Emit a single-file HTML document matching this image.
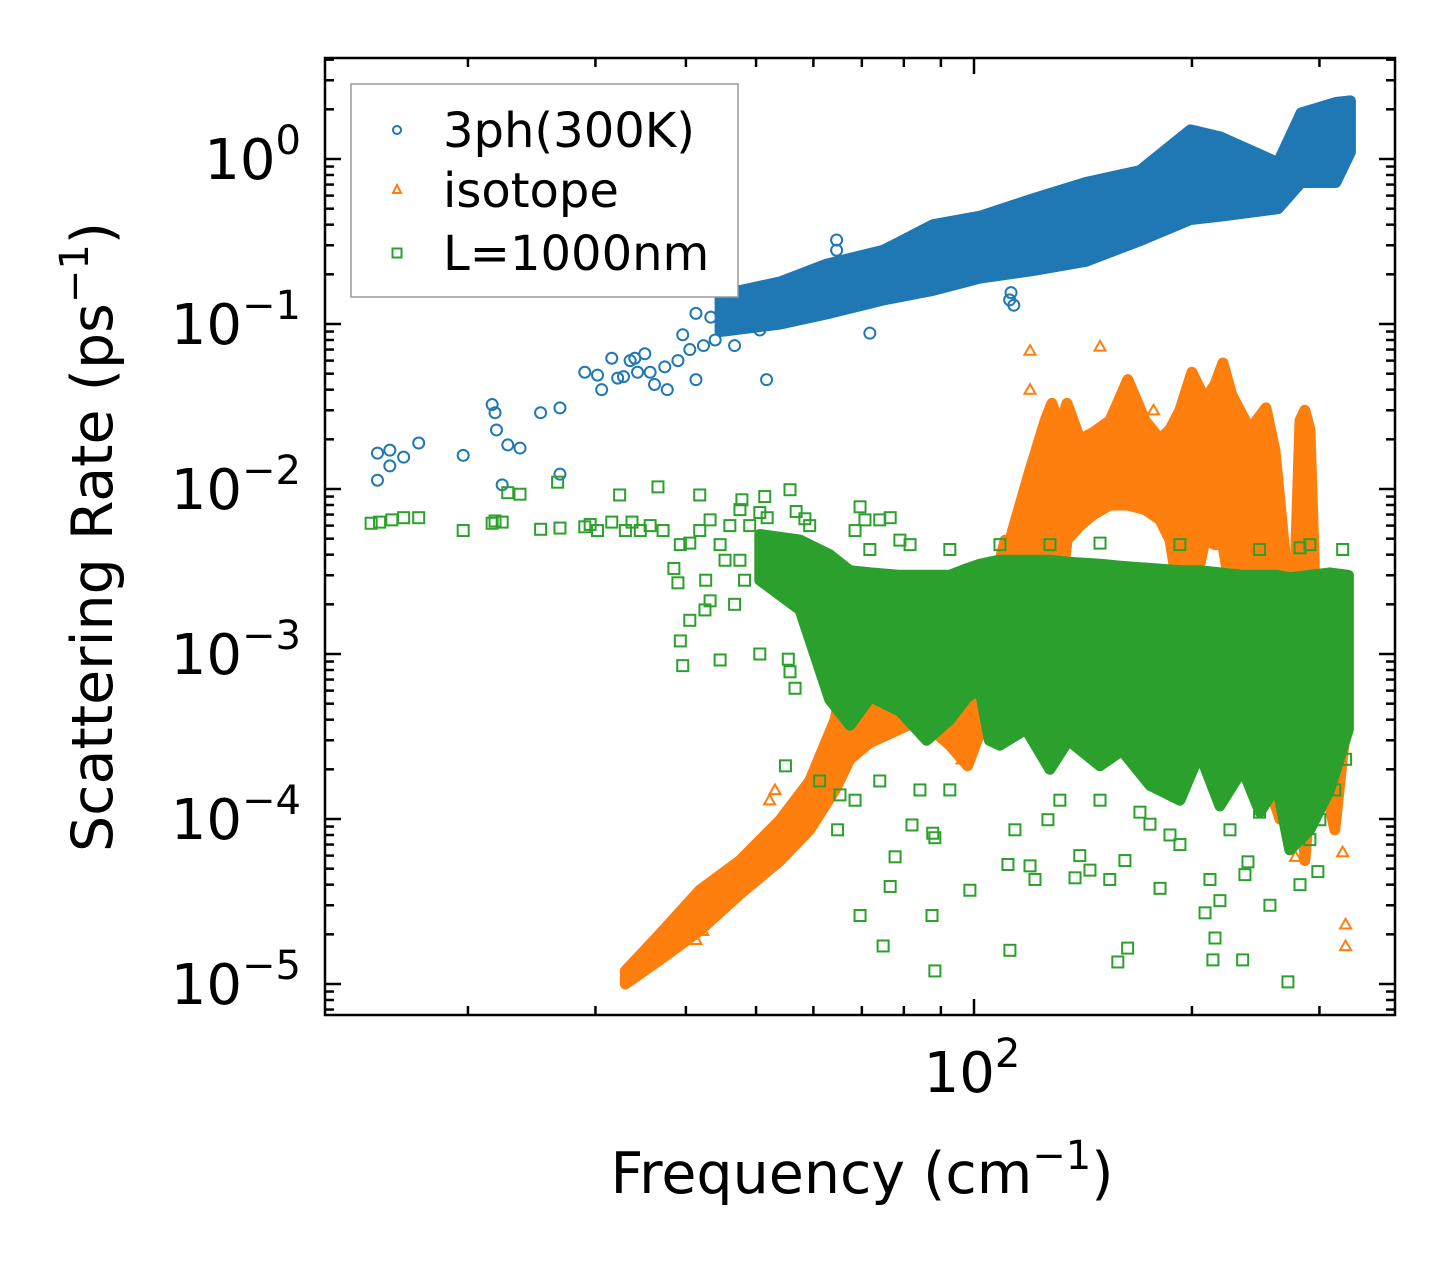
<!DOCTYPE html>
<html><head><meta charset="utf-8"><style>
html,body{margin:0;padding:0;background:#fff;}
svg{display:block;font-family:"DejaVu Sans","Liberation Sans",sans-serif;}
</style></head><body>
<svg id="chart" width="1455" height="1265" viewBox="0 0 1455 1265" xmlns="http://www.w3.org/2000/svg">
<rect x="0" y="0" width="1455" height="1265" fill="#fff"/>
<g id="plot"></g>
<g id="axes"></g>
</svg>
<script>
// ---- data (frequency in cm^-1, rate in ps^-1) ----
const blueBandF = [44.6, 54, 62.5, 75, 87.8, 102, 120, 142.7, 169.5, 199, 219, 263, 283, 316, 331];
const blueBandHi = [0.15, 0.18, 0.23, 0.28, 0.40, 0.45, 0.57, 0.72, 0.85, 1.5, 1.36, 0.95, 1.9, 2.2, 2.25];
const blueBandLo = [0.09, 0.10, 0.115, 0.14, 0.16, 0.19, 0.21, 0.24, 0.32, 0.43, 0.45, 0.5, 0.72, 0.72, 1.1];
const blueF = [15.0,15.0,15.6,15.6,16.3,17.1,19.7,21.6,21.8,21.9,22.3,22.7,23.6,25.2,26.8,26.8,29,30.2,30.6,31.6,32.2,32.8,33.5,34,34.3,35.1,35.7,36.2,37.4,37.7,39,39.6,40.5,41.3,42.3,43.3,43.9,47.5,51.7,46.7,50.6,41.3,71.8,112,112.5,113.5,64.6,64.6];
const blueV = [0.0165,0.0113,0.0172,0.0138,0.0156,0.019,0.016,0.0325,0.029,0.0228,0.0106,0.0185,0.0177,0.029,0.031,0.0123,0.051,0.049,0.040,0.062,0.047,0.048,0.060,0.062,0.051,0.066,0.051,0.043,0.055,0.040,0.060,0.086,0.070,0.046,0.074,0.11,0.080,0.14,0.046,0.074,0.092,0.116,0.088,0.14,0.155,0.13,0.323,0.28];

const orangeDiagF = [33, 36.8, 41.8, 47.5, 54, 59.3, 64.3, 67.4, 71.8, 84.2, 92.6, 98, 103.5, 110.4];
const orangeDiagHi = [1.2e-5, 2.0e-5, 3.7e-5, 5.6e-5, 9.9e-5, 1.7e-4, 4.0e-4, 1.06e-3, 1.6e-3, 1.5e-3, 1.35e-3, 1.25e-3, 1.6e-3, 4.9e-3];
const orangeDiagLo = [1.0e-5, 1.4e-5, 2.1e-5, 3.5e-5, 5.6e-5, 8.6e-5, 1.5e-4, 2.3e-4, 2.9e-4, 4.0e-4, 2.8e-4, 2.1e-4, 4.0e-4, 1.05e-3];
const orangeBlobF = [112.1,119.5,125.4,128.1,131.4,134.4,140.1,146.1,154.1,163.1,172.3,180.7,186.5,192.5,200,208.5,215.2,220.7,227.1,240.5,253,260.5,269.4];
const orangeBlobHi = [4.9e-3,1.3e-2,2.6e-2,3.3e-2,2.4e-2,3.3e-2,2.0e-2,2.2e-2,2.6e-2,4.6e-2,2.6e-2,2.0e-2,2.3e-2,3.0e-2,5.1e-2,3.5e-2,4.3e-2,5.8e-2,3.7e-2,2.3e-2,3.1e-2,1.7e-2,3.7e-3];
const orangeBlobLo = [1.2e-3,1.6e-3,2.0e-3,2.0e-3,2.0e-3,4.9e-3,6.0e-3,7.0e-3,8.0e-3,8.0e-3,7.5e-3,6.5e-3,4.9e-3,2.1e-3,2.1e-3,4.9e-3,4.6e-3,4.6e-3,2.1e-3,2.1e-3,2.1e-3,2.1e-3,1.6e-3];
const orangeSpikeF = [278, 282, 286.4, 291, 295];
const orangeSpikeHi = [3.7e-3, 2.6e-2, 3.0e-2, 2.3e-2, 3.7e-3];
const orangeSpikeLo = [1.6e-3, 5.3e-4, 5.6e-5, 1.3e-4, 5.3e-4];
const orangeRightF = [233, 264.6, 300.4, 315, 327];
const orangeRightHi = [2.1e-3, 2.1e-3, 2.8e-3, 2.1e-3, 1.2e-3];
const orangeRightLo = [5.3e-4, 1.0e-4, 2.3e-4, 8.6e-5, 4.0e-4];
const orangeF = [119.5,149.3,119.5,177,326,326,323,278,98,96.3,53.1,52.2,50.6,41.3,42.2];
const orangeV = [6.9e-2,7.3e-2,4.0e-2,3.0e-2,2.3e-5,1.7e-5,6.3e-5,5.9e-5,2.7e-4,2.3e-4,1.5e-4,1.3e-4,5.3e-5,1.85e-5,2.1e-5];

const greenBandF = [50.6, 57.5, 63.2, 67.4, 72, 79, 86, 92.6, 98, 101.9, 105, 108.6, 118, 127.3, 135, 149.3, 160, 175, 192.5, 205, 218.6, 235, 248.3, 262, 273, 291, 310, 329];
const greenBandHi = [5.3e-3,4.9e-3,4.0e-3,3.2e-3,3.1e-3,3.0e-3,3.0e-3,3.0e-3,3.3e-3,3.5e-3,3.6e-3,3.7e-3,3.7e-3,3.7e-3,3.6e-3,3.5e-3,3.4e-3,3.3e-3,3.2e-3,3.2e-3,3.1e-3,3.0e-3,3.0e-3,3.0e-3,2.9e-3,3.0e-3,3.1e-3,3.0e-3];
const greenBandLo = [2.8e-3,1.85e-3,5.3e-4,3.7e-4,5.5e-4,4.5e-4,3.0e-4,4.0e-4,5.5e-4,6.1e-4,3.0e-4,2.8e-4,3.5e-4,2.0e-4,3.0e-4,2.1e-4,2.6e-4,1.6e-4,1.3e-4,2.5e-4,1.2e-4,2.0e-4,1.1e-4,1.6e-4,6.5e-5,8.6e-5,1.5e-4,3.5e-4];
const greenF = [14.7,15.1,15.7,16.3,17.1,19.7,21.6,21.8,22.3,22.7,23.6,25.2,26.6,26.8,29,29.5,30.2,31.6,32.4,33,33.7,34.6,35.7,36.6,37.2,39.3,40.5,41.8,41.8,43.2,44.6,45.3,46,47.5,47.8,49,50.6,51.4,51.8,55.7,56.8,58.4,59.3,39.3,39.6,38.5,39,40.5,43.2,42.6,44.6,42.5,47.5,46.7,48.2,50.6,55.4,55.7,56.6,69.6,70.7,74.1,76.6,79,68.5,71.8,
54.9,68.5,64.8,82.1,87.7,88.3,77.8,69.6,74.9,76.6,87.5,88.3,98.7,111.4,119.5,121.4,112.1,140,137.9,154,161.6,158,163,208.5,215.2,213.8,211.8,218.6,256.3,271.4,298.5,282,236.7,239,235,180.7,175,186.5,192.5,225.7,300.4,315,326,291,248,126.5,113.9,131.4,144.6,92.6,74.1,84.2,65.3,61.2,149.3,169.5,
127.3,108.6,149.3,192.5,282,291,323,248,81.6,92.6];
const greenV = [6.2e-3,6.3e-3,6.5e-3,6.7e-3,6.7e-3,5.6e-3,6.2e-3,6.4e-3,6.3e-3,9.5e-3,9.3e-3,5.7e-3,1.1e-2,5.8e-3,5.9e-3,6.1e-3,5.6e-3,6.3e-3,9.2e-3,5.6e-3,6.3e-3,5.6e-3,6.0e-3,1.03e-2,5.6e-3,4.6e-3,4.7e-3,9.2e-3,5.6e-3,6.5e-3,4.6e-3,3.7e-3,6.0e-3,7.5e-3,8.6e-3,6.0e-3,7.2e-3,9.0e-3,6.7e-3,9.9e-3,7.3e-3,6.6e-3,6.0e-3,1.2e-3,8.5e-4,3.3e-3,2.7e-3,1.6e-3,2.1e-3,2.8e-3,9.2e-4,1.85e-3,3.7e-3,2.0e-3,2.8e-3,1.0e-3,9.3e-4,7.8e-4,6.2e-4,7.8e-3,6.5e-3,6.5e-3,6.7e-3,4.9e-3,5.6e-3,4.3e-3,
2.1e-4,1.3e-4,8.6e-5,9.2e-5,8.2e-5,7.7e-5,5.9e-5,2.6e-5,1.7e-5,3.9e-5,2.6e-5,1.2e-5,3.7e-5,5.3e-5,5.2e-5,4.3e-5,1.6e-5,6.0e-5,4.4e-5,4.3e-5,5.6e-5,1.36e-5,1.65e-5,2.7e-5,1.9e-5,1.4e-5,4.3e-5,3.2e-5,3.0e-5,1.03e-5,4.8e-5,4.0e-5,4.6e-5,5.5e-5,1.4e-5,3.8e-5,9.3e-5,8.0e-5,7.0e-5,8.6e-5,9.9e-5,1.5e-4,2.3e-4,7.5e-5,1.1e-4,9.9e-5,8.6e-5,1.3e-4,4.9e-5,1.5e-4,1.7e-4,1.5e-4,1.4e-4,1.7e-4,1.3e-4,1.1e-4,
4.6e-3,4.6e-3,4.7e-3,4.6e-3,4.4e-3,4.6e-3,4.3e-3,4.3e-3,4.6e-3,4.3e-3];

const yTickExp = [0, -1, -2, -3, -4, -5];
const yTickLabels = ["0", "\u22121", "\u22122", "\u22123", "\u22124", "\u22125"];
const xMajor = [100];
const xMinor = [20,30,40,50,60,70,80,90,200,300];

// ---- axis functions ----
const L = 325, R = 1395, T = 58, B = 1015;
function X(f){ return 974 + 724 * Math.log10(f / 100); }
function Y(v){ return 159 - 165 * Math.log10(v); }
const NS = "http://www.w3.org/2000/svg";
function mk(tag, attrs, parent){ const e = document.createElementNS(NS, tag); for (const k in attrs) e.setAttribute(k, attrs[k]); parent.appendChild(e); return e; }
const plot = document.getElementById('plot');
const axes = document.getElementById('axes');

function band(F, hi, lo, color, name){
  const pts = [];
  for (let i = 0; i < F.length; i++) pts.push(X(F[i]).toFixed(1) + ',' + Y(hi[i]).toFixed(1));
  for (let i = F.length - 1; i >= 0; i--) pts.push(X(F[i]).toFixed(1) + ',' + Y(lo[i]).toFixed(1));
  const p = mk('polygon', {points: pts.join(' '), fill: color, stroke: color, 'stroke-width': 11, 'stroke-linejoin': 'round'}, plot);
  
  
}
function marker(kind, cx, cy, color, s, parent){
  let e;
  if (kind === 'o') e = mk('circle', {cx: cx, cy: cy, r: s, fill: 'none', stroke: color, 'stroke-width': 2}, parent);
  else if (kind === '^') e = mk('polygon', {points: `${cx},${cy - s} ${cx - s},${cy + s * 0.75} ${cx + s},${cy + s * 0.75}`, fill: 'none', stroke: color, 'stroke-width': 2}, parent);
  else e = mk('rect', {x: cx - s, y: cy - s, width: 2 * s, height: 2 * s, fill: 'none', stroke: color, 'stroke-width': 2}, parent);
  return e;
}
function scatter(F, V, kind, color, name){
  for (let i = 0; i < F.length; i++){
    const e = marker(kind, X(F[i]), Y(V[i]), color, 5.5, plot);
    
    
  }
}
const BLUE = '#1f77b4', ORANGE = '#ff7f0e', GREEN = '#2ca02c';
band(blueBandF, blueBandHi, blueBandLo, BLUE, 'phonon-3ph-dense-band');
scatter(blueF, blueV, 'o', BLUE, 'phonon-3ph-point');
band(orangeDiagF, orangeDiagHi, orangeDiagLo, ORANGE, 'isotope-diagonal-band');
band(orangeBlobF, orangeBlobHi, orangeBlobLo, ORANGE, 'isotope-main-band');
band(orangeSpikeF, orangeSpikeHi, orangeSpikeLo, ORANGE, 'isotope-spike-band');
band(orangeRightF, orangeRightHi, orangeRightLo, ORANGE, 'isotope-right-band');
scatter(orangeF, orangeV, '^', ORANGE, 'isotope-point');
band(greenBandF, greenBandHi, greenBandLo, GREEN, 'boundary-dense-band');
scatter(greenF, greenV, 's', GREEN, 'boundary-point');

// ---- frame & ticks ----
const frame = mk('rect', {x: L, y: T, width: R - L, height: B - T, fill: 'none', stroke: '#000', 'stroke-width': 2.5}, axes);


function tick(x1, y1, x2, y2, name){
  const t = mk('line', {x1: x1, y1: y1, x2: x2, y2: y2, stroke: '#000', 'stroke-width': 2.5}, axes);
  
  
}
for (let d = -6; d <= 0; d++){
  for (let m = 1; m <= 9; m++){
    const v = m * Math.pow(10, d);
    const y = Y(v);
    if (y < T || y > B) continue;
    const len = m === 1 ? 16 : 9;
    tick(L, y, L + len, y, m === 1 ? 'y-major-tick' : 'y-minor-tick');
    tick(R, y, R - len, y, m === 1 ? 'y-major-tick' : 'y-minor-tick');
  }
}
xMajor.forEach(f => { tick(X(f), B, X(f), B - 16, 'x-major-tick'); tick(X(f), T, X(f), T + 16, 'x-major-tick'); });
xMinor.forEach(f => { tick(X(f), B, X(f), B - 9, 'x-minor-tick'); tick(X(f), T, X(f), T + 9, 'x-minor-tick'); });

// tick labels
yTickExp.forEach((e, i) => {
  const y = Y(Math.pow(10, e));
  const t = mk('text', {x: 301, y: y + 20, 'text-anchor': 'end', 'font-size': 56, fill: '#000'}, axes);
  
  
  t.innerHTML = '10<tspan dy="-25" font-size="40">' + yTickLabels[i] + '</tspan>';
});
xMajor.forEach(f => {
  const t = mk('text', {x: X(f) - 2, y: 1092, 'text-anchor': 'middle', 'font-size': 56, fill: '#000'}, axes);
  
  
  t.innerHTML = '10<tspan dy="-25" font-size="40">2</tspan>';
});
</script>
<script>
(function(){
  const svg = document.getElementById('chart');
  const NS = "http://www.w3.org/2000/svg";
  const g = document.createElementNS(NS, 'g');
  svg.appendChild(g);
  g.innerHTML =
   '<text x="862" y="1193" text-anchor="middle" font-size="57" fill="#000">Frequency (cm<tspan dy="-24" font-size="40">\u22121</tspan><tspan dy="24">)</tspan></text>' +
   '<text transform="translate(112,537) rotate(-90)" text-anchor="middle" font-size="57" fill="#000">Scattering Rate (ps<tspan dy="-24" font-size="40">\u22121</tspan><tspan dy="24">)</tspan></text>' +
   '<g>' +
   '<rect x="351" y="84" width="387" height="213" fill="#fff" stroke="#999" stroke-width="1.5"/>' +
   '<circle cx="397" cy="130" r="4" fill="none" stroke="#1f77b4" stroke-width="2"/>' +
   '<text x="443" y="147" font-size="48" fill="#000">3ph(300K)</text>' +
   '<polygon points="397,185 393,193 401,193" fill="none" stroke="#ff7f0e" stroke-width="2"/>' +
   '<text x="443" y="207" font-size="48" fill="#000">isotope</text>' +
   '<rect x="392.5" y="248.5" width="9" height="9" fill="none" stroke="#2ca02c" stroke-width="2"/>' +
   '<text x="443" y="270" font-size="48" fill="#000">L=1000nm</text>' +
   '</g>';
})();
</script>
</body></html>
